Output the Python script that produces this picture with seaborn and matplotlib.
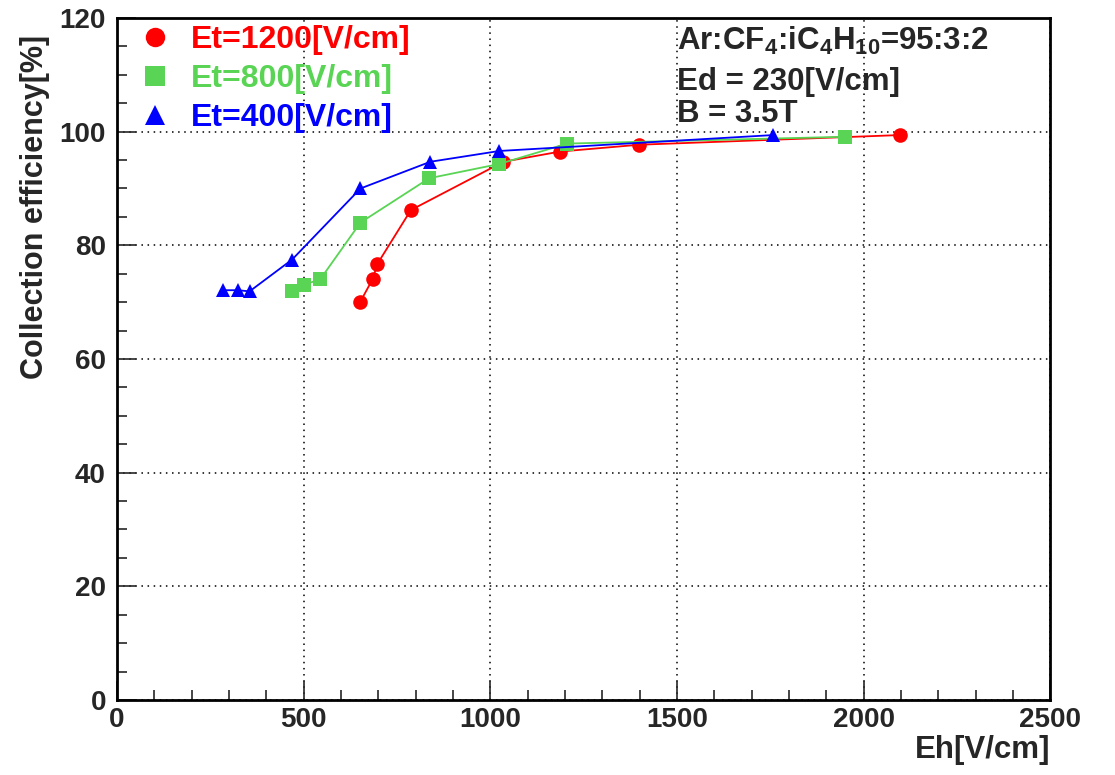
import matplotlib
matplotlib.use("Agg")
import matplotlib.pyplot as plt
from matplotlib.lines import Line2D
from matplotlib.ticker import MultipleLocator
import seaborn as sns
import pandas as pd

# ---- data ----
eh_1200 = [651, 685, 697, 787, 1035, 1187, 1399, 2098]
ce_1200 = [70.0, 74.1, 76.7, 86.2, 94.7, 96.5, 97.7, 99.4]
eh_800 = [469, 502, 544, 652, 836, 1023, 1206, 1951]
ce_800 = [72.0, 73.1, 74.0, 84.0, 91.8, 94.3, 97.9, 99.1]
eh_400 = [283, 323, 355, 469, 652, 839, 1024, 1758]
ce_400 = [72.1, 72.1, 71.9, 77.5, 90.0, 94.7, 96.6, 99.4]
labels = ["Et=1200[V/cm]", "Et=800[V/cm]", "Et=400[V/cm]"]
colors = ["#ff0000", "#59d454", "#0000ff"]
markers = ["o", "s", "^"]
x_ticks = [0, 500, 1000, 1500, 2000, 2500]
y_ticks = [0, 20, 40, 60, 80, 100, 120]

df = pd.concat([
    pd.DataFrame({"Eh": eh_1200, "CE": ce_1200, "series": labels[0]}),
    pd.DataFrame({"Eh": eh_800, "CE": ce_800, "series": labels[1]}),
    pd.DataFrame({"Eh": eh_400, "CE": ce_400, "series": labels[2]}),
], ignore_index=True)

sns.set_style("ticks")
plt.rcParams["font.family"] = ["Liberation Sans", "DejaVu Sans"]
plt.rcParams["font.weight"] = "bold"
plt.rcParams["mathtext.fontset"] = "custom"
plt.rcParams["mathtext.rm"] = "Liberation Sans:bold"
plt.rcParams["mathtext.bf"] = "Liberation Sans:bold"
plt.rcParams["mathtext.default"] = "bf"

fig = plt.figure(figsize=(11.15, 7.75), dpi=100)
ax = fig.add_axes([0.105, 0.0968, 0.837, 0.880])

for lab, col, mk in zip(labels, colors, markers):
    sub = df[df["series"] == lab]
    sns.lineplot(data=sub, x="Eh", y="CE", ax=ax, color=col, marker=mk,
                 markersize=10.5, markeredgewidth=0, linewidth=1.3,
                 sort=False, legend=False, zorder=3)

ax.set_xlim(0, 2500)
ax.set_ylim(0, 120)
ax.set_xticks(x_ticks)
ax.set_yticks(y_ticks)
ax.xaxis.set_minor_locator(MultipleLocator(100))
ax.yaxis.set_minor_locator(MultipleLocator(5))
ax.tick_params(axis="both", which="major", direction="in", length=14, width=1.2,
               labelsize=20, top=False, right=False)
ax.tick_params(axis="both", which="minor", direction="in", length=7, width=1.2,
               top=False, right=False)
ax.tick_params(axis="x", pad=5)
ax.tick_params(axis="y", pad=8)
for lbl in ax.get_xticklabels() + ax.get_yticklabels():
    lbl.set_fontweight("bold")

ax.grid(True, which="major", color="black", linestyle=(0, (1, 3)), linewidth=1.1)
for s in ax.spines.values():
    s.set_linewidth(2)
    s.set_color("black")

ax.set_xlabel("Eh[V/cm]", fontsize=22.5, fontweight="bold", loc="right")
ax.set_ylabel("Collection efficiency[%]", fontsize=22, fontweight="bold", loc="top")
ax.xaxis.set_label_coords(1.0, -0.052)
ax.yaxis.set_label_coords(-0.072, 0.975)

handles = [Line2D([], [], color=c, marker=m, linestyle="none", markersize=14,
                  markeredgewidth=0) for c, m in zip(colors, markers)]
leg = ax.legend(handles, labels, loc="upper left", bbox_to_anchor=(0.0, 1.022),
                frameon=False, handlelength=1.0, handletextpad=0.62,
                labelspacing=0.28, borderaxespad=0.3, labelcolor=colors,
                prop={"weight": "bold", "size": 23})

ax.text(0.600, 0.953, r"Ar:CF$_{4}$:iC$_{4}$H$_{10}$=95:3:2", transform=ax.transAxes,
        fontsize=22.5, fontweight="bold", va="baseline", ha="left")
ax.text(0.600, 0.895, "Ed = 230[V/cm]", transform=ax.transAxes,
        fontsize=22.5, fontweight="bold", va="baseline", ha="left")
ax.text(0.600, 0.847, "B = 3.5T", transform=ax.transAxes,
        fontsize=22.5, fontweight="bold", va="baseline", ha="left")

fig.savefig("out.png", dpi=100)
